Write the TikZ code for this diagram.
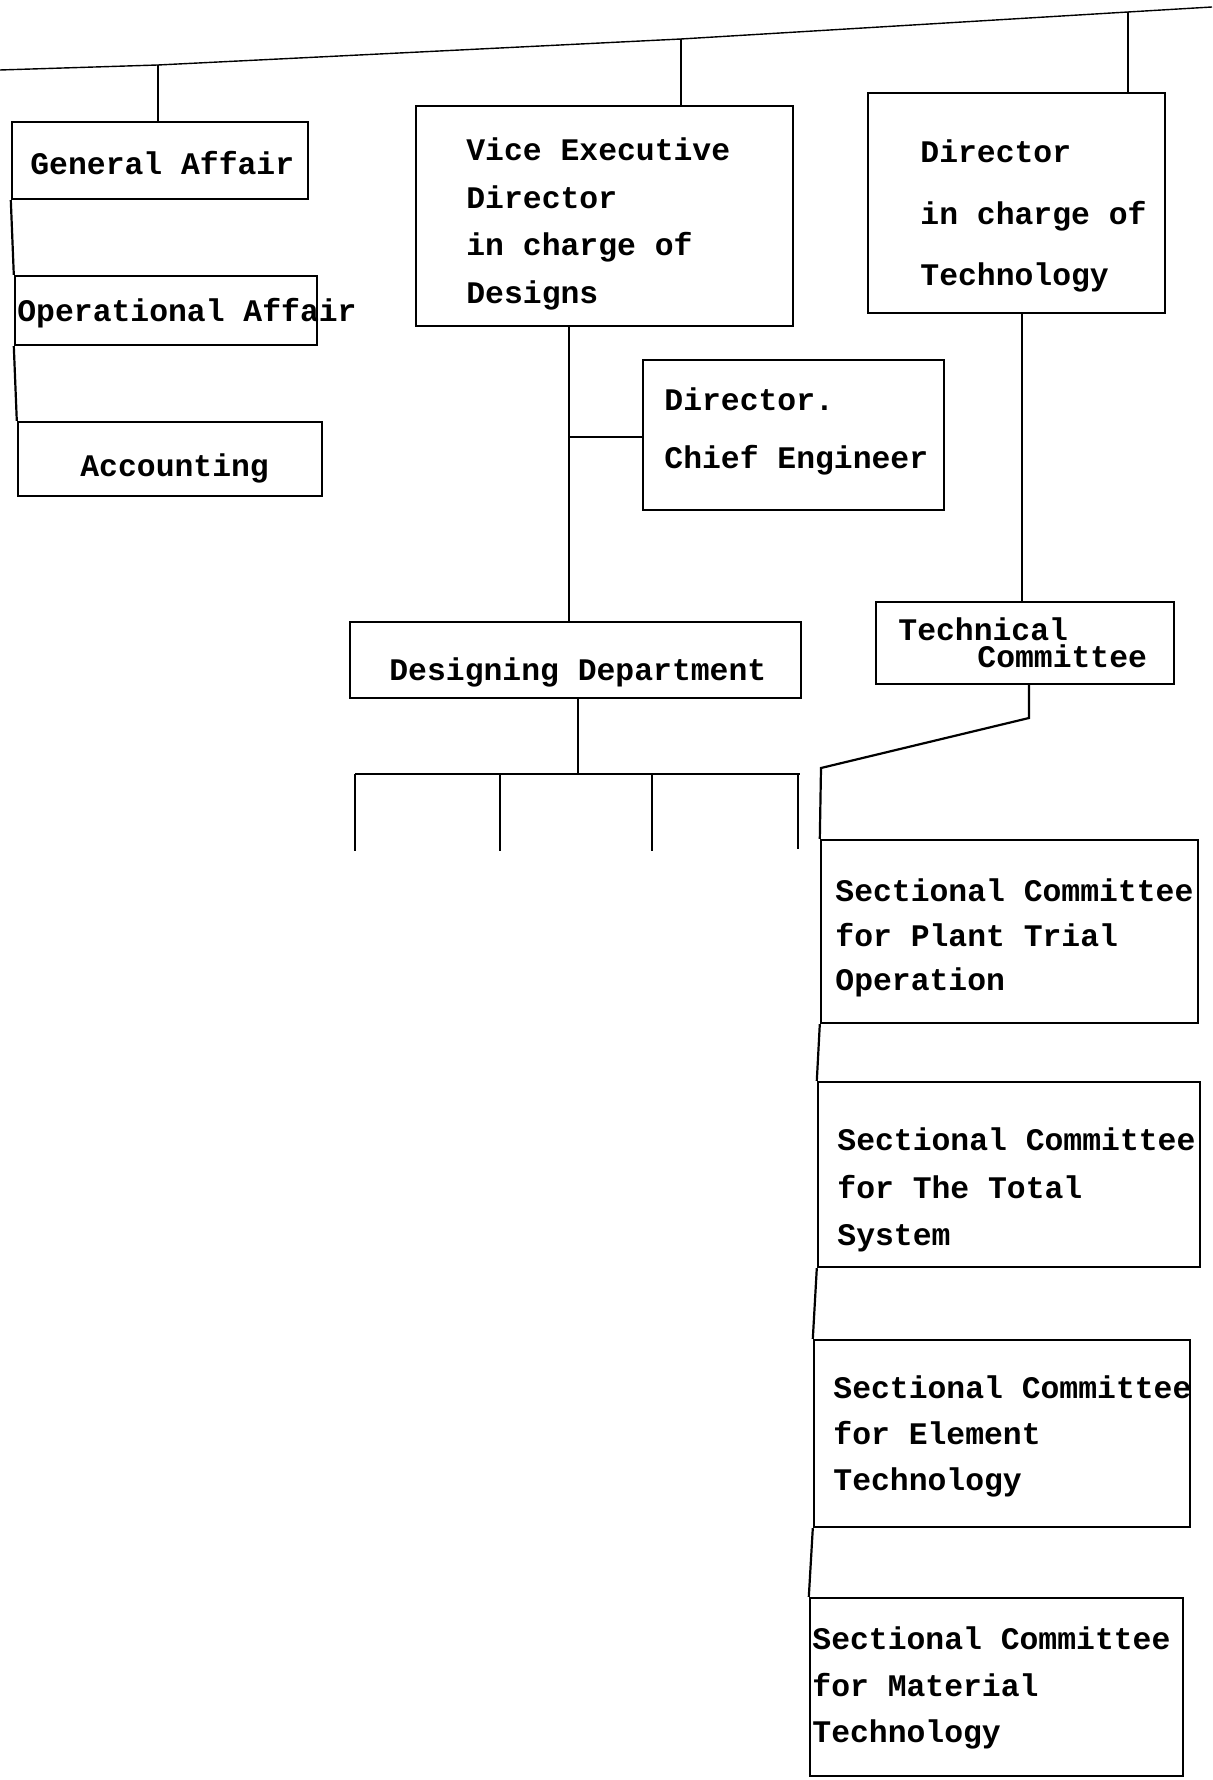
\documentclass[tikz,border=0pt]{standalone}
\usepackage{fontspec}
\setmonofont{Liberation Mono}
\usetikzlibrary{fit}
\begin{document}
\begin{tikzpicture}[x=0.5pt,y=-0.5pt,
  boxst/.style={draw, line width=1.2pt, inner sep=0pt},
  txt/.style={font={\ttfamily\bfseries\fontsize{15.7}{#1}\selectfont}, inner sep=0pt, anchor=west, align=left},
  txt/.default=23.5pt,
  ln/.style={line width=1.1pt},
  bus/.style={line width=0.7pt}]
\fill[white] (0,0) rectangle (1212,1780);
\useasboundingbox (0,0) rectangle (1212,1780);

% boxes
\node[boxst, fit={(12,122) (308,199)}] (ga) {};
\node[boxst, fit={(15,276) (317,345)}] (oa) {};
\node[boxst, fit={(18,422) (322,496)}] (acc) {};
\node[boxst, fit={(416,106) (793,326)}] (ved) {};
\node[boxst, fit={(868,93) (1165,313)}] (dt) {};
\node[boxst, fit={(643,360) (944,510)}] (ce) {};
\node[boxst, fit={(350,622) (801,698)}] (dd) {};
\node[boxst, fit={(876,602) (1174,684)}] (tc) {};
\node[boxst, fit={(821,840) (1198,1023)}] (s1) {};
\node[boxst, fit={(818,1082) (1200,1267)}] (s2) {};
\node[boxst, fit={(814,1340) (1190,1527)}] (s3) {};
\node[boxst, fit={(810,1598) (1183,1776)}] (s4) {};

% texts
\node[txt] (gat) at (30,163) {General Affair};
\node[txt] (oat) at (17,313) {Operational Affair};
\node[txt] (acct) at (80,468) {Accounting};
\node[txt=23.7pt] (vedt) at (466,224) {Vice Executive\\Director\\in charge of\\Designs};
\node[txt=30.75pt] (dtt) at (920,216) {Director\\in charge of\\Technology};
\node[txt=29pt] (cet) at (664,431) {Director.\\Chief Engineer};
\node[txt] (ddt) at (389,672) {Designing Department};
\node[txt=13.5pt] (tct) at (898,643) {Technical\\\hspace*{39.5pt}Committee};
\node[txt=22.25pt] (s1t) at (835,938) {Sectional Committee\\for Plant Trial\\Operation};
\node[txt=23.75pt] (s2t) at (837,1190) {Sectional Committee\\for The Total\\System};
\node[txt=23pt] (s3t) at (833,1436) {Sectional Committee\\for Element\\Technology};
\node[txt=23.25pt] (s4t) at (812,1688) {Sectional Committee\\for Material\\Technology};

% top bus
\coordinate (t0) at (0,70);
\coordinate (t1) at (158,65);
\coordinate (t2) at (681,39);
\coordinate (t3) at (1128,12);
\coordinate (t4) at (1212,7);
\draw[bus] (t0) -- (t1) -- (t2) -- (t3) -- (t4);
\draw[ln] (t1) -- (ga.north -| t1);
\draw[ln] (t2) -- (ved.north -| t2);
\draw[ln] (t3) -- (dt.north -| t3);

% left column
\draw[ln] (ga.south west) -- (oa.north west);
\draw[ln] (oa.south west) -- (acc.north west);

% design branch
\coordinate (vx) at (569,0);
\draw[ln] (ved.south -| vx) -- (dd.north -| vx);
\coordinate (cj) at (569,437);
\draw[ln] (cj) -- (cj -| ce.west);
\coordinate (dx) at (578,774);
\draw[ln] (dd.south -| dx) -- (dx);
\coordinate (bL) at (355,774);
\coordinate (bR) at (800,774);
\draw[ln] (bL) -- (bR);
\coordinate (e1) at (355,851);
\coordinate (e2) at (500,851);
\coordinate (e3) at (652,851);
\coordinate (e4) at (798,849);
\draw[ln] (bL) -- (e1);
\draw[ln] (e2 |- bL) -- (e2);
\draw[ln] (e3 |- bL) -- (e3);
\draw[ln] (e4 |- bL) -- (e4);

% technology branch
\coordinate (tx) at (1022,0);
\draw[ln] (dt.south -| tx) -- (tc.north -| tx);
\coordinate (k1) at (1029,718);
\coordinate (k2) at (821,768);
\draw[ln] (tc.south -| k1) -- (k1) -- (k2) -- (s1.north west);
\draw[ln] (s1.south west) -- (s2.north west);
\draw[ln] (s2.south west) -- (s3.north west);
\draw[ln] (s3.south west) -- (s4.north west);
\end{tikzpicture}
\end{document}
